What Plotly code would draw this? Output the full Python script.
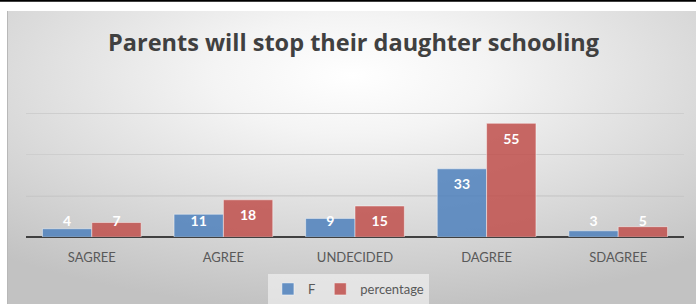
import base64
import plotly.graph_objects as go

# ---- data ----
categories = ["SAGREE", "AGREE", "UNDECIDED", "DAGREE", "SDAGREE"]
f_values = [4, 11, 9, 33, 3]
pct_values = [7, 18, 15, 55, 5]
series_names = ["F", "percentage"]
title_text = "Parents will stop their daughter schooling"
y_grid = [20, 40, 60]

# ---- layout constants (pixels) ----
W, H = 696, 304
L, R, T, B = 26, 12, 112, 67
PW, PH = W - L - R, H - T - B

BLUE = "rgba(79,129,189,0.86)"
RED = "rgba(192,80,77,0.86)"
BAR_W = 0.375


def px_x(px):
    return (px - L) / PW


def px_y(py):
    return (H - B - py) / PH


svg = f"""<svg xmlns='http://www.w3.org/2000/svg' width='{W}' height='{H}' viewBox='0 0 100 100' preserveAspectRatio='none'>
<defs><radialGradient id='g' cx='50%' cy='22%' r='80%'>
<stop offset='0' stop-color='#ffffff'/>
<stop offset='0.25' stop-color='#f4f4f4'/>
<stop offset='1' stop-color='#c2c2c2'/>
</radialGradient></defs>
<rect x='0' y='0' width='100' height='100' fill='url(#g)'/>
</svg>"""
bg_src = "data:image/svg+xml;base64," + base64.b64encode(svg.encode()).decode()

xs = list(range(len(categories)))

fig = go.Figure()
fig.add_trace(go.Bar(
    x=xs, y=f_values, name=series_names[0], width=BAR_W, offset=-BAR_W,
    marker=dict(color=BLUE, line=dict(color="rgba(255,255,255,0.45)", width=1)),
))
fig.add_trace(go.Bar(
    x=xs, y=pct_values, name=series_names[1], width=BAR_W, offset=0,
    marker=dict(color=RED, line=dict(color="rgba(255,255,255,0.45)", width=1)),
))

# data labels (inside end, clamped near the base for short bars)
for vals, off in ((f_values, -BAR_W / 2), (pct_values, BAR_W / 2)):
    fig.add_trace(go.Scatter(
        x=[i + off for i in xs],
        y=[max(v - 8.1, 6.8) for v in vals],
        text=[str(v) for v in vals],
        mode="text",
        textposition="middle center",
        textfont=dict(family="Lato", size=14, color="white", weight="bold"),
        showlegend=False, hoverinfo="skip",
    ))

shapes = [
    # darker gridline at 20
    dict(type="line", xref="paper", yref="y", x0=0, x1=1, y0=y_grid[0], y1=y_grid[0],
         line=dict(color="#9a9a9a", width=1), layer="below"),
    # top black border
    dict(type="line", xref="paper", yref="paper", x0=px_x(0), x1=px_x(W),
         y0=px_y(0.8), y1=px_y(0.8), line=dict(color="black", width=2)),
    # left edge of chart frame
    dict(type="line", xref="paper", yref="paper", x0=px_x(7.5), x1=px_x(7.5),
         y0=px_y(11), y1=px_y(H), line=dict(color="#b8b8b8", width=1)),
]

fig.update_layout(
    width=W, height=H,
    margin=dict(l=L, r=R, t=T, b=B, autoexpand=False),
    paper_bgcolor="white", plot_bgcolor="rgba(0,0,0,0)",
    images=[dict(source=bg_src, xref="paper", yref="paper",
                 x=px_x(7), y=px_y(11), sizex=(W - 7) / PW, sizey=(H - 11) / PH,
                 xanchor="left", yanchor="top", sizing="stretch", layer="below")],
    title=dict(text=title_text, x=0.508, xanchor="center", y=1 - 43 / H, yanchor="middle",
               font=dict(family="Open Sans", size=23.5, color="#404040", weight="bold")),
    barmode="overlay",
    showlegend=True,
    legend=dict(orientation="h", x=0.49, xanchor="center", y=px_y(274), yanchor="top",
                bgcolor="rgba(240,240,240,0.7)", font=dict(family="Lato", size=13, color="#595959"),
                itemwidth=30, traceorder="normal"),
    shapes=shapes,
    font=dict(family="Lato"),
)
fig.update_xaxes(
    range=[-0.5, len(categories) - 0.5], tickvals=xs, ticktext=categories,
    showgrid=False, zeroline=False, showline=False, ticks="",
    tickfont=dict(family="Lato", size=13, color="#595959"), ticklabelstandoff=11,
    fixedrange=True,
)
fig.update_yaxes(
    range=[0, 60.5], tickvals=y_grid, showticklabels=False, showgrid=True,
    gridcolor="#cecece", gridwidth=1, zeroline=True, zerolinecolor="#404040", zerolinewidth=2,
    showline=False, fixedrange=True,
)

fig.write_html("out.html", config={"displayModeBar": False},
               post_script="document.body.style.margin='0';")
